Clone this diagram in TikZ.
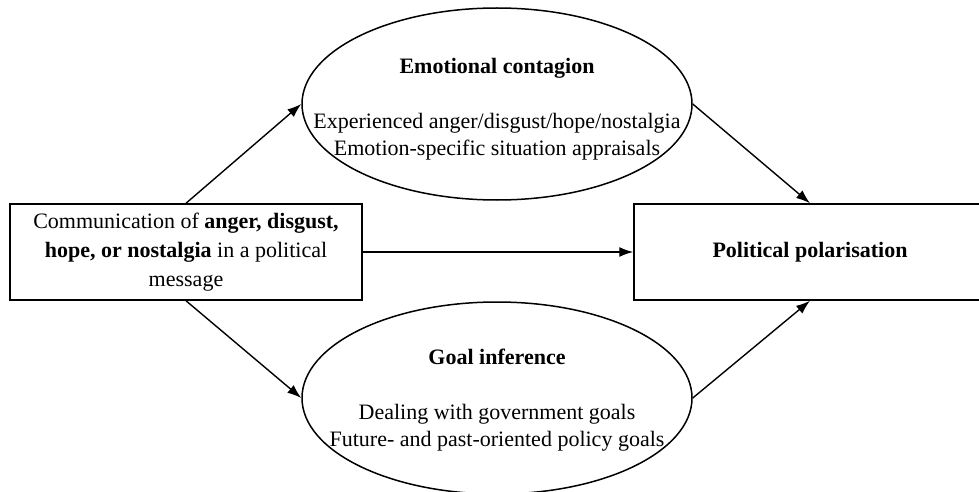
\documentclass[tikz,border=0pt]{standalone}
\usepackage{fontspec}
\setmainfont{Liberation Serif}
\usepackage{tikz}
\usetikzlibrary{arrows.meta,positioning,shapes.geometric}

\begin{document}
\begin{tikzpicture}[
  x=0.5pt, y=-0.5pt,
  every node/.style={font=\fontsize{11}{14.5}\selectfont},
  boxnode/.style={draw, line width=0.75pt, minimum width=176pt, minimum height=48pt, inner sep=0pt, align=center},
  mediator/.style={draw, ellipse, line width=0.75pt, minimum width=195pt, minimum height=96pt, inner sep=0pt},
  medtext/.style={align=center, inner sep=0pt, font=\fontsize{11}{13.5}\selectfont},
  arrow/.style={-{Latex[length=7pt,width=5pt]}, line width=0.7pt}
]
  \useasboundingbox (0,0) rectangle (979,492);

  \node[boxnode] (message) at (186,252)
    {Communication of \textbf{anger, disgust,}\\
     \textbf{hope, or nostalgia} in a political\\
     message};
  \node[boxnode] (polar) at (810,252) {\textbf{Political polarisation}};

  % mediators: ellipse drawn empty, text placed on its centre
  \node[mediator] (contagion) at (497,104) {};
  \node[medtext, yshift=-2.75pt] (contagiontext) at (contagion.center)
    {\textbf{Emotional contagion}\\[14pt]
     Experienced anger/disgust/hope/nostalgia\\
     Emotion-specific situation appraisals};
  \node[mediator] (goals) at (497,398) {};
  \node[medtext, yshift=-1pt] (goalstext) at (goals.center)
    {\textbf{Goal inference}\\[14pt]
     Dealing with government goals\\
     Future- and past-oriented policy goals};

  \draw[arrow] (message.north) -- (contagion.west);
  \draw[arrow] (contagion.east) -- (polar.north);
  \draw[arrow] (message.east) -- (polar.west);
  \draw[arrow] (message.south) -- (goals.west);
  \draw[arrow] (goals.east) -- (polar.south);
\end{tikzpicture}
\end{document}
